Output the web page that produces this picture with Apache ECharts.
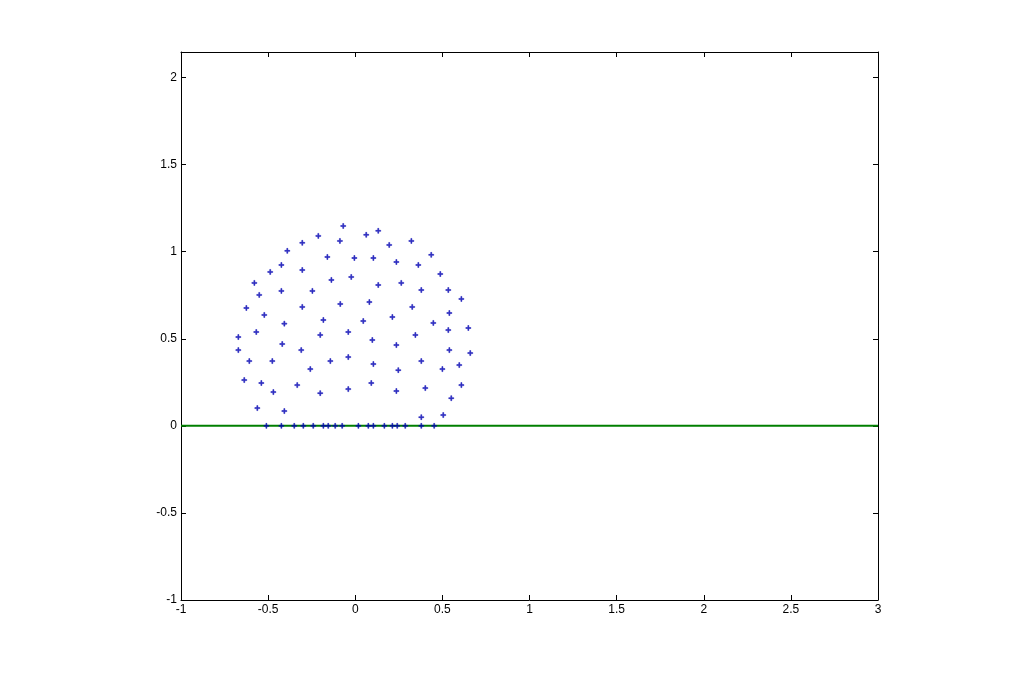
<!DOCTYPE html>
<html>
<head>
<meta charset="utf-8">
<script src="https://cdn.jsdelivr.net/npm/echarts@6/dist/echarts.min.js"></script>
<style>html,body{margin:0;padding:0;background:#fff}#c{width:1024px;height:674px}</style>
</head>
<body>
<div id="c"></div>
<script>
// Scatter points (x, y)
const pointsX = [
 -0.069,-0.212,-0.304,-0.088,-0.390,-0.160,-0.005,-0.424,-0.488,-0.304,-0.137,-0.023,
 -0.579,-0.551,-0.424,-0.246,-0.086,-0.625,-0.522,-0.304,-0.183,-0.407,
 0.063,0.132,0.195,0.322,0.104,0.236,0.362,0.436,0.132,0.264,0.379,0.488,0.534,0.609,
 0.081,0.327,0.540,0.046,0.213,0.448,
 -0.671,-0.568,-0.419,-0.201,-0.040,-0.671,-0.608,-0.476,-0.310,-0.258,-0.143,-0.040,
 -0.637,-0.539,-0.470,-0.333,-0.201,-0.040,-0.562,-0.407,
 0.534,0.649,0.098,0.236,0.345,0.540,0.660,0.104,0.247,0.379,0.500,0.597,
 0.092,0.236,0.402,0.609,0.551,0.379,0.505
];
const pointsY = [
 1.148,1.091,1.051,1.062,1.005,0.970,0.964,0.924,0.884,0.895,0.838,0.855,
 0.821,0.752,0.775,0.775,0.700,0.677,0.637,0.683,0.608,0.587,
 1.097,1.120,1.039,1.062,0.964,0.941,0.924,0.982,0.809,0.821,0.780,0.872,0.780,0.729,
 0.711,0.683,0.648,0.602,0.625,0.591,
 0.510,0.539,0.470,0.522,0.539,0.435,0.372,0.372,0.435,0.326,0.372,0.395,
 0.263,0.246,0.194,0.234,0.188,0.211,0.102,0.085,
 0.550,0.562,0.493,0.464,0.522,0.435,0.418,0.355,0.320,0.372,0.326,0.349,
 0.246,0.200,0.217,0.234,0.159,0.050,0.062
];
// Points lying on y = 0
const baseX = [-0.510,-0.424,-0.350,-0.298,-0.241,-0.183,-0.155,-0.115,-0.075,
 0.018,0.075,0.104,0.167,0.213,0.241,0.287,0.379,0.453];
const baseY = baseX.map(() => 0);
// Horizontal line y = 0
const lineX = [-1, 3];
const lineY = [0, 0];

const xTicks = [-1,-0.5,0,0.5,1,1.5,2,2.5,3];
const yTicks = [-1,-0.5,0,0.5,1,1.5,2];

const scatterData = pointsX.map((x,i)=>[x,pointsY[i]]).concat(baseX.map((x,i)=>[x,baseY[i]]));
const lineData = lineX.map((x,i)=>[x,lineY[i]]);

const fmt = v => {
  const r = Math.round(v*2)/2;
  if (Math.abs(r - v) > 1e-6) return '';
  return String(r);
};
const font = {fontFamily:'Liberation Sans, Arial, sans-serif', fontSize:12, color:'#000'};
const axLine = {show:true, onZero:false, lineStyle:{color:'#000', width:1}};
const tick = {show:true, inside:true, length:5, lineStyle:{color:'#000'}};

const plusPath = 'path://M2,0 L3,0 L3,2 L5,2 L5,3 L3,3 L3,5 L2,5 L2,3 L0,3 L0,2 L2,2 Z';

const chart = echarts.init(document.getElementById('c'), null, {renderer:'canvas'});
chart.setOption({
  backgroundColor:'#fff',
  animation:false,
  grid:{left:181, right:146, top:52, bottom:74, containLabel:false},
  xAxis:[
    {type:'value', min:-1, max:3, interval:0.5, axisLine:axLine, axisTick:tick,
     splitLine:{show:false}, axisLabel:Object.assign({margin:4, formatter:fmt}, font)},
    {type:'value', position:'top', min:-1, max:3, interval:0.5, axisLine:axLine, axisTick:tick,
     splitLine:{show:false}, axisLabel:{show:false}}
  ],
  yAxis:[
    {type:'value', min:-1, max:2.147, interval:0.5, axisLine:axLine, axisTick:tick,
     splitLine:{show:false}, axisLabel:Object.assign({margin:4, formatter:fmt}, font)},
    {type:'value', position:'right', min:-1, max:2.147, interval:0.5, axisLine:axLine, axisTick:tick,
     splitLine:{show:false}, axisLabel:{show:false}}
  ],
  series:[
    {type:'line', data:lineData, symbol:'none', lineStyle:{color:'#007f00', width:2}, z:2, silent:true},
    {type:'scatter', data:scatterData, symbol:plusPath, symbolSize:5, symbolKeepAspect:true,
     itemStyle:{color:'#0000b4', borderColor:'#0000b4', borderWidth:0.6}, z:3, silent:true}
  ]
});
</script>
</body>
</html>
